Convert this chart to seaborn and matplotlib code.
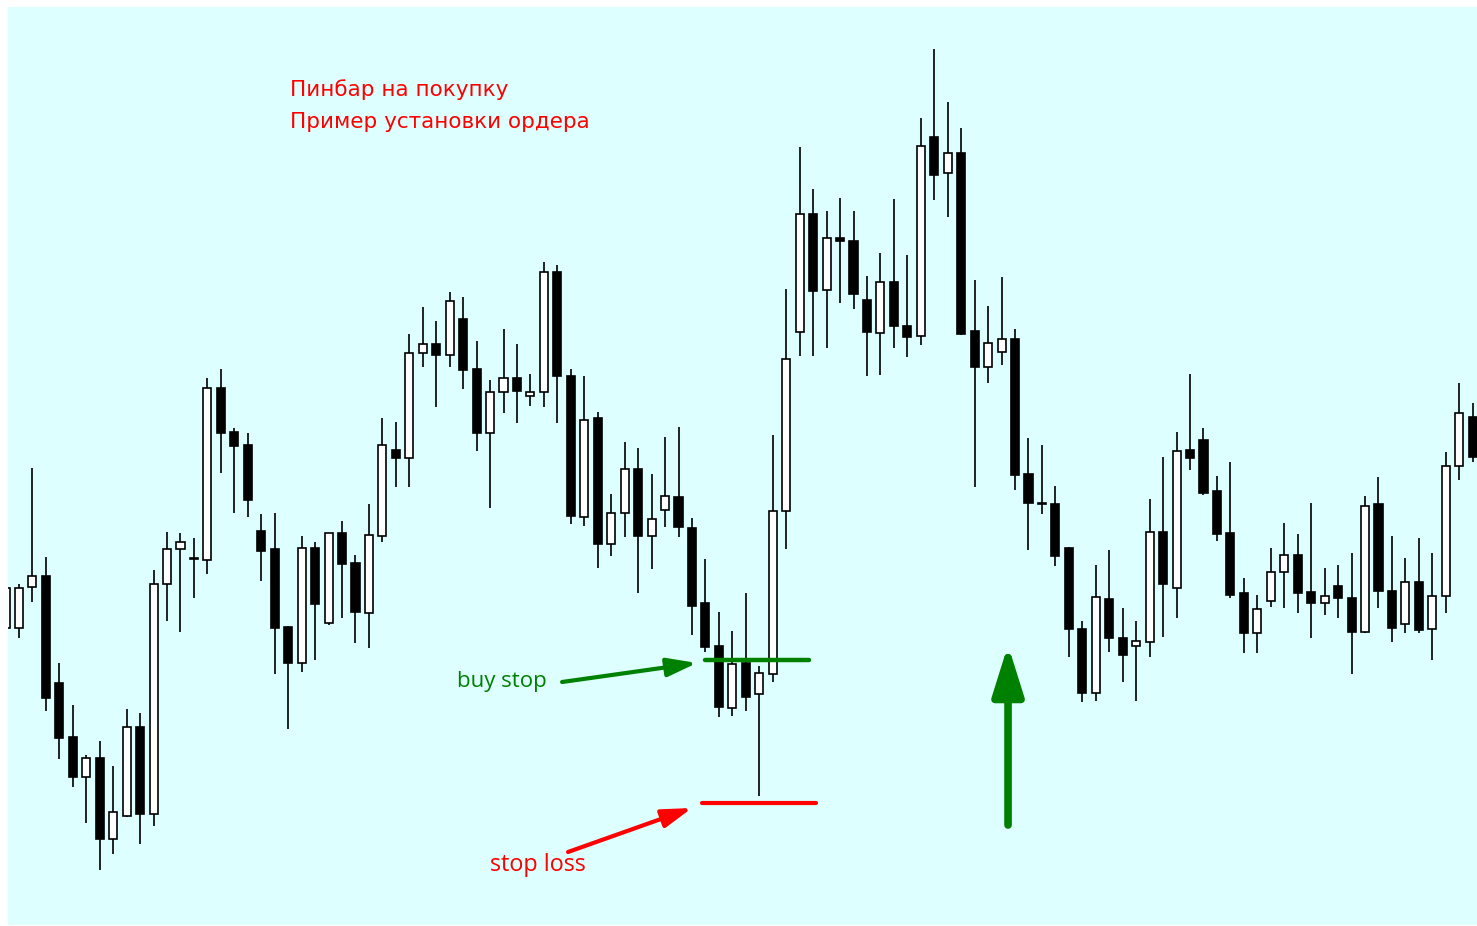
import numpy as np
import pandas as pd
import seaborn as sns
import matplotlib.pyplot as plt

# -------------------------------
# Candle data (price levels)
# -------------------------------
opens = [372, 372, 413, 424, 317, 263, 223, 242, 161, 184,
         273, 186, 416, 451, 442, 440, 612, 568, 555, 469,
         451, 373, 337, 452, 377, 467, 437, 387, 464, 550,
         542, 647, 656, 645, 681, 631, 567, 608, 622, 604,
         608, 728, 624, 483, 582, 456, 487, 531, 464, 490,
         503, 472, 397, 354, 292, 337, 306, 326, 489, 668,
         786, 710, 762, 759, 700, 667, 718, 674, 664, 863,
         827, 847, 669, 633, 648, 661, 526, 497, 496, 452,
         371, 307, 401, 362, 354, 358, 468, 412, 550, 560,
         509, 467, 407, 367, 399, 428, 445, 408, 397, 414,
         402, 368, 496, 409, 376, 418, 371, 404, 534, 583]
highs = [416, 416, 532, 443, 337, 295, 245, 259, 234, 291,
         287, 430, 468, 467, 462, 622, 631, 572, 567, 486,
         487, 374, 464, 458, 467, 479, 445, 496, 582, 578,
         666, 693, 679, 708, 703, 659, 620, 671, 656, 626,
         738, 735, 631, 624, 588, 506, 558, 552, 526, 563,
         573, 482, 441, 388, 369, 407, 334, 565, 711, 853,
         811, 789, 802, 789, 724, 747, 801, 745, 882, 951,
         898, 872, 720, 694, 723, 671, 562, 555, 514, 453,
         379, 435, 450, 392, 379, 501, 543, 568, 626, 572,
         524, 538, 422, 405, 452, 477, 466, 497, 432, 435,
         447, 504, 523, 464, 442, 462, 447, 548, 617, 597]
lows = [364, 362, 398, 289, 241, 213, 177, 130, 146, 183,
        156, 174, 379, 368, 402, 426, 527, 487, 483, 419,
        326, 271, 328, 340, 375, 382, 357, 352, 458, 513,
        513, 633, 593, 633, 611, 549, 492, 587, 577, 594,
        593, 577, 476, 474, 432, 444, 463, 407, 431, 473,
        463, 365, 348, 283, 284, 289, 204, 318, 451, 644,
        644, 652, 697, 691, 624, 625, 652, 643, 655, 800,
        783, 665, 513, 617, 635, 510, 450, 486, 434, 343,
        298, 299, 348, 318, 299, 343, 363, 382, 530, 505,
        459, 402, 347, 347, 393, 392, 387, 362, 385, 382,
        326, 367, 392, 358, 367, 367, 340, 387, 520, 538]
closes = [412, 412, 424, 302, 262, 223, 242, 161, 188, 273,
          186, 416, 451, 458, 441, 612, 567, 554, 500, 449,
          372, 337, 452, 396, 467, 436, 388, 465, 555, 542,
          647, 656, 645, 699, 630, 567, 608, 622, 609, 608,
          728, 624, 484, 580, 456, 487, 531, 464, 481, 504,
          473, 394, 353, 293, 336, 303, 327, 489, 641, 786,
          709, 762, 759, 706, 668, 718, 674, 663, 854, 825,
          847, 666, 633, 657, 661, 525, 497, 496, 444, 371,
          307, 403, 362, 345, 359, 468, 416, 549, 542, 507,
          466, 405, 367, 391, 428, 445, 407, 397, 404, 402,
          368, 494, 409, 372, 418, 370, 404, 534, 587, 543]

buy_stop_level = 340
stop_loss_level = 197

df = pd.DataFrame({'open': opens, 'high': highs, 'low': lows, 'close': closes})
df['idx'] = np.arange(len(df))
df['bull'] = df['close'] >= df['open']
df['body_low'] = df[['open', 'close']].min(axis=1)
df['body_h'] = (df['close'] - df['open']).abs().clip(lower=1)

# -------------------------------
# Plot
# -------------------------------
sns.set_theme(style="white")
plt.rcParams['font.family'] = ['Open Sans', 'DejaVu Sans']

fig = plt.figure(figsize=(14.77, 9.26), dpi=100)
ax = fig.add_axes([8 / 1477, 1 / 926, 1469 / 1477, 918 / 926])
ax.set_facecolor('#DDFFFF')

# wicks
ax.vlines(df['idx'], df['low'], df['high'], color='#111111', lw=1.3, zorder=2)
# bodies
colors = np.where(df['bull'], 'white', 'black')
ax.bar(df['idx'], df['body_h'], bottom=df['body_low'], width=0.6,
       color=colors, edgecolor='black', linewidth=1.2, zorder=3)

ax.set_xlim(0.186, 109.32)
ax.set_ylim(75, 993)
ax.set_xticks([])
ax.set_yticks([])
sns.despine(ax=ax, left=True, bottom=True)

# order levels
ax.hlines(buy_stop_level, 51.97, 59.7, color='#008000', lw=3.2, capstyle='round', zorder=4)
ax.hlines(stop_loss_level, 51.75, 60.2, color='#FF0000', lw=3.0, capstyle='round', zorder=4)

# arrows
ax.annotate('', xy=(51.37, 337), xytext=(41.35, 318),
            arrowprops=dict(arrowstyle='-|>,head_length=0.9,head_width=0.28',
                            mutation_scale=20, color='#008000', lw=3,
                            shrinkA=0, shrinkB=0, capstyle='round'))
ax.annotate('', xy=(51.0, 192), xytext=(41.79, 148),
            arrowprops=dict(arrowstyle='-|>,head_length=0.9,head_width=0.28',
                            mutation_scale=20, color='#FF0000', lw=3,
                            shrinkA=0, shrinkB=0, capstyle='round'))
ax.annotate('', xy=(74.48, 355), xytext=(74.48, 175),
            arrowprops=dict(arrowstyle='-|>,head_length=1.5,head_width=0.47',
                            mutation_scale=20, color='#008000', lw=5.5,
                            shrinkA=0, shrinkB=0, capstyle='round'))

# texts
ax.text(33.55, 318, 'buy stop', color='#008000', fontsize=16, va='center', ha='left')
ax.text(36.0, 135, 'stop loss', color='#FF0000', fontsize=16.8, va='center', ha='left')
ax.text(21.13, 904, 'Пинбар на покупку', color='#FF0000', fontsize=15.5,
        va='baseline', ha='left', family=['DejaVu Sans'])
ax.text(21.13, 872, 'Пример установки ордера', color='#FF0000', fontsize=15.5,
        va='baseline', ha='left', family=['DejaVu Sans'])

fig.savefig('out.png', dpi=100, facecolor='white')
